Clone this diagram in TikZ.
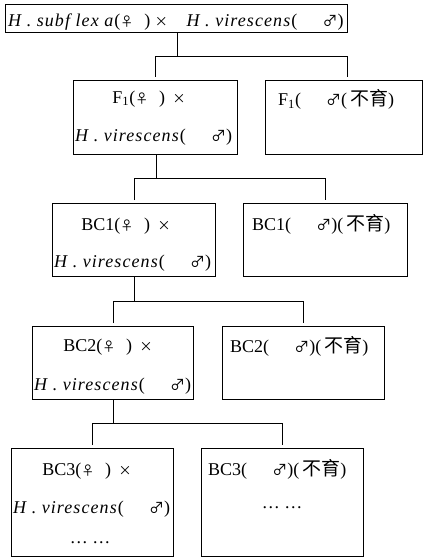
\documentclass[tikz,border=0pt]{standalone}
\usepackage{fontspec}
\setmainfont{Liberation Serif}[ItalicFeatures={LetterSpace=6}]
\newfontfamily\cjk{Noto Sans CJK SC}
\newcommand\fem{{\cjk\fontsize{13}{13}\selectfont ♀}}
\newcommand\mal{{\cjk\fontsize{15}{15}\selectfont ♂}}
\newcommand\crs{{\cjk\fontsize{13}{13}\selectfont ×}}
\newcommand\byu{{\cjk\fontsize{19}{19}\selectfont 不育}}
\newcommand\hvir{\textit{H . virescens}(\hspace{1.4em}\mal)}
\begin{document}
\begin{tikzpicture}[x=1pt,y=-1pt,
  box/.style={draw, line width=1pt, inner sep=0pt, anchor=north west},
  txt/.style={inner sep=0pt, font=\fontsize{18}{18}\selectfont},
  link/.style={line width=1pt}]
\useasboundingbox (0,0) rectangle (424,559);
% boxes
\node[box, minimum width=342pt, minimum height=28pt] (top) at (5,4) {};
\node[box, minimum width=164pt, minimum height=74pt] (F1L) at (73,80) {};
\node[box, minimum width=157pt, minimum height=74pt] (F1R) at (265,80) {};
\node[box, minimum width=163pt, minimum height=73pt] (B1L) at (52,203) {};
\node[box, minimum width=164pt, minimum height=73pt] (B1R) at (243,203) {};
\node[box, minimum width=161pt, minimum height=73pt] (B2L) at (32,326) {};
\node[box, minimum width=162pt, minimum height=73pt] (B2R) at (222,326) {};
\node[box, minimum width=162pt, minimum height=108pt] (B3L) at (11,448) {};
\node[box, minimum width=162pt, minimum height=108pt] (B3R) at (201,448) {};
% texts
\node[txt, anchor=base west] (t0) at (8,27) {\textit{H . subf lex a}(\fem\hspace{0.6em}) \crs\hspace{0.8em} \textit{H . virescens}(\hspace{1.4em}\mal)};
\node[txt, anchor=base] (t1a) at (149,103) {F\textsubscript{1}(\fem\hspace{0.6em}) \,\crs};
\node[txt, anchor=base west] (t1b) at (75,142) {\hvir};
\node[txt, anchor=base west] (t1c) at (278,106) {F\textsubscript{1}(\hspace{1.4em}\mal(\,\byu)};
\node[txt, anchor=base] (t2a) at (126,230) {BC1(\fem\hspace{0.6em}) \,\crs};
\node[txt, anchor=base west] (t2b) at (54,267) {\hvir};
\node[txt, anchor=base west] (t2c) at (252,230) {BC1(\hspace{1.4em}\mal)(\,\byu)};
\node[txt, anchor=base] (t3a) at (108,351) {BC2(\fem\hspace{0.6em}) \,\crs};
\node[txt, anchor=base west] (t3b) at (34,390) {\hvir};
\node[txt, anchor=base west] (t3c) at (230,352) {BC2(\hspace{1.4em}\mal)(\,\byu)};
\node[txt, anchor=base] (t4a) at (87,475) {BC3(\fem\hspace{0.6em}) \,\crs};
\node[txt, anchor=base west] (t4b) at (13,513) {\hvir};
\node[txt, anchor=base] (t4c) at (90,543) {\ldots\ \ldots};
\node[txt, anchor=base west] (t4d) at (208,475) {BC3(\hspace{1.4em}\mal)(\,\byu)};
\node[txt, anchor=base] (t4e) at (282,508) {\ldots\ \ldots};
% connectors
\coordinate (j1) at (177,57);
\coordinate (j2) at (156,178);
\coordinate (j3) at (134,301);
\coordinate (j4) at (113,423);
\draw[link] (top.south -| j1) -- (j1);
\draw[link] ([yshift=3pt]F1L.north) |- (j1 -| 347,0) -- ([yshift=3pt]F1R.north -| 347,0);
\draw[link] (F1L.south -| j2) -- (j2);
\draw[link] ([yshift=3pt]B1L.north) |- (j2 -| B1R) -- ([yshift=3pt]B1R.north);
\draw[link] (B1L.south -| j3) -- (j3);
\draw[link] ([yshift=3pt]B2L.north) |- (j3 -| B2R) -- ([yshift=3pt]B2R.north);
\draw[link] (B2L.south -| j4) -- (j4);
\draw[link] ([yshift=3pt]B3L.north) |- (j4 -| B3R) -- ([yshift=3pt]B3R.north);
\end{tikzpicture}
\end{document}
